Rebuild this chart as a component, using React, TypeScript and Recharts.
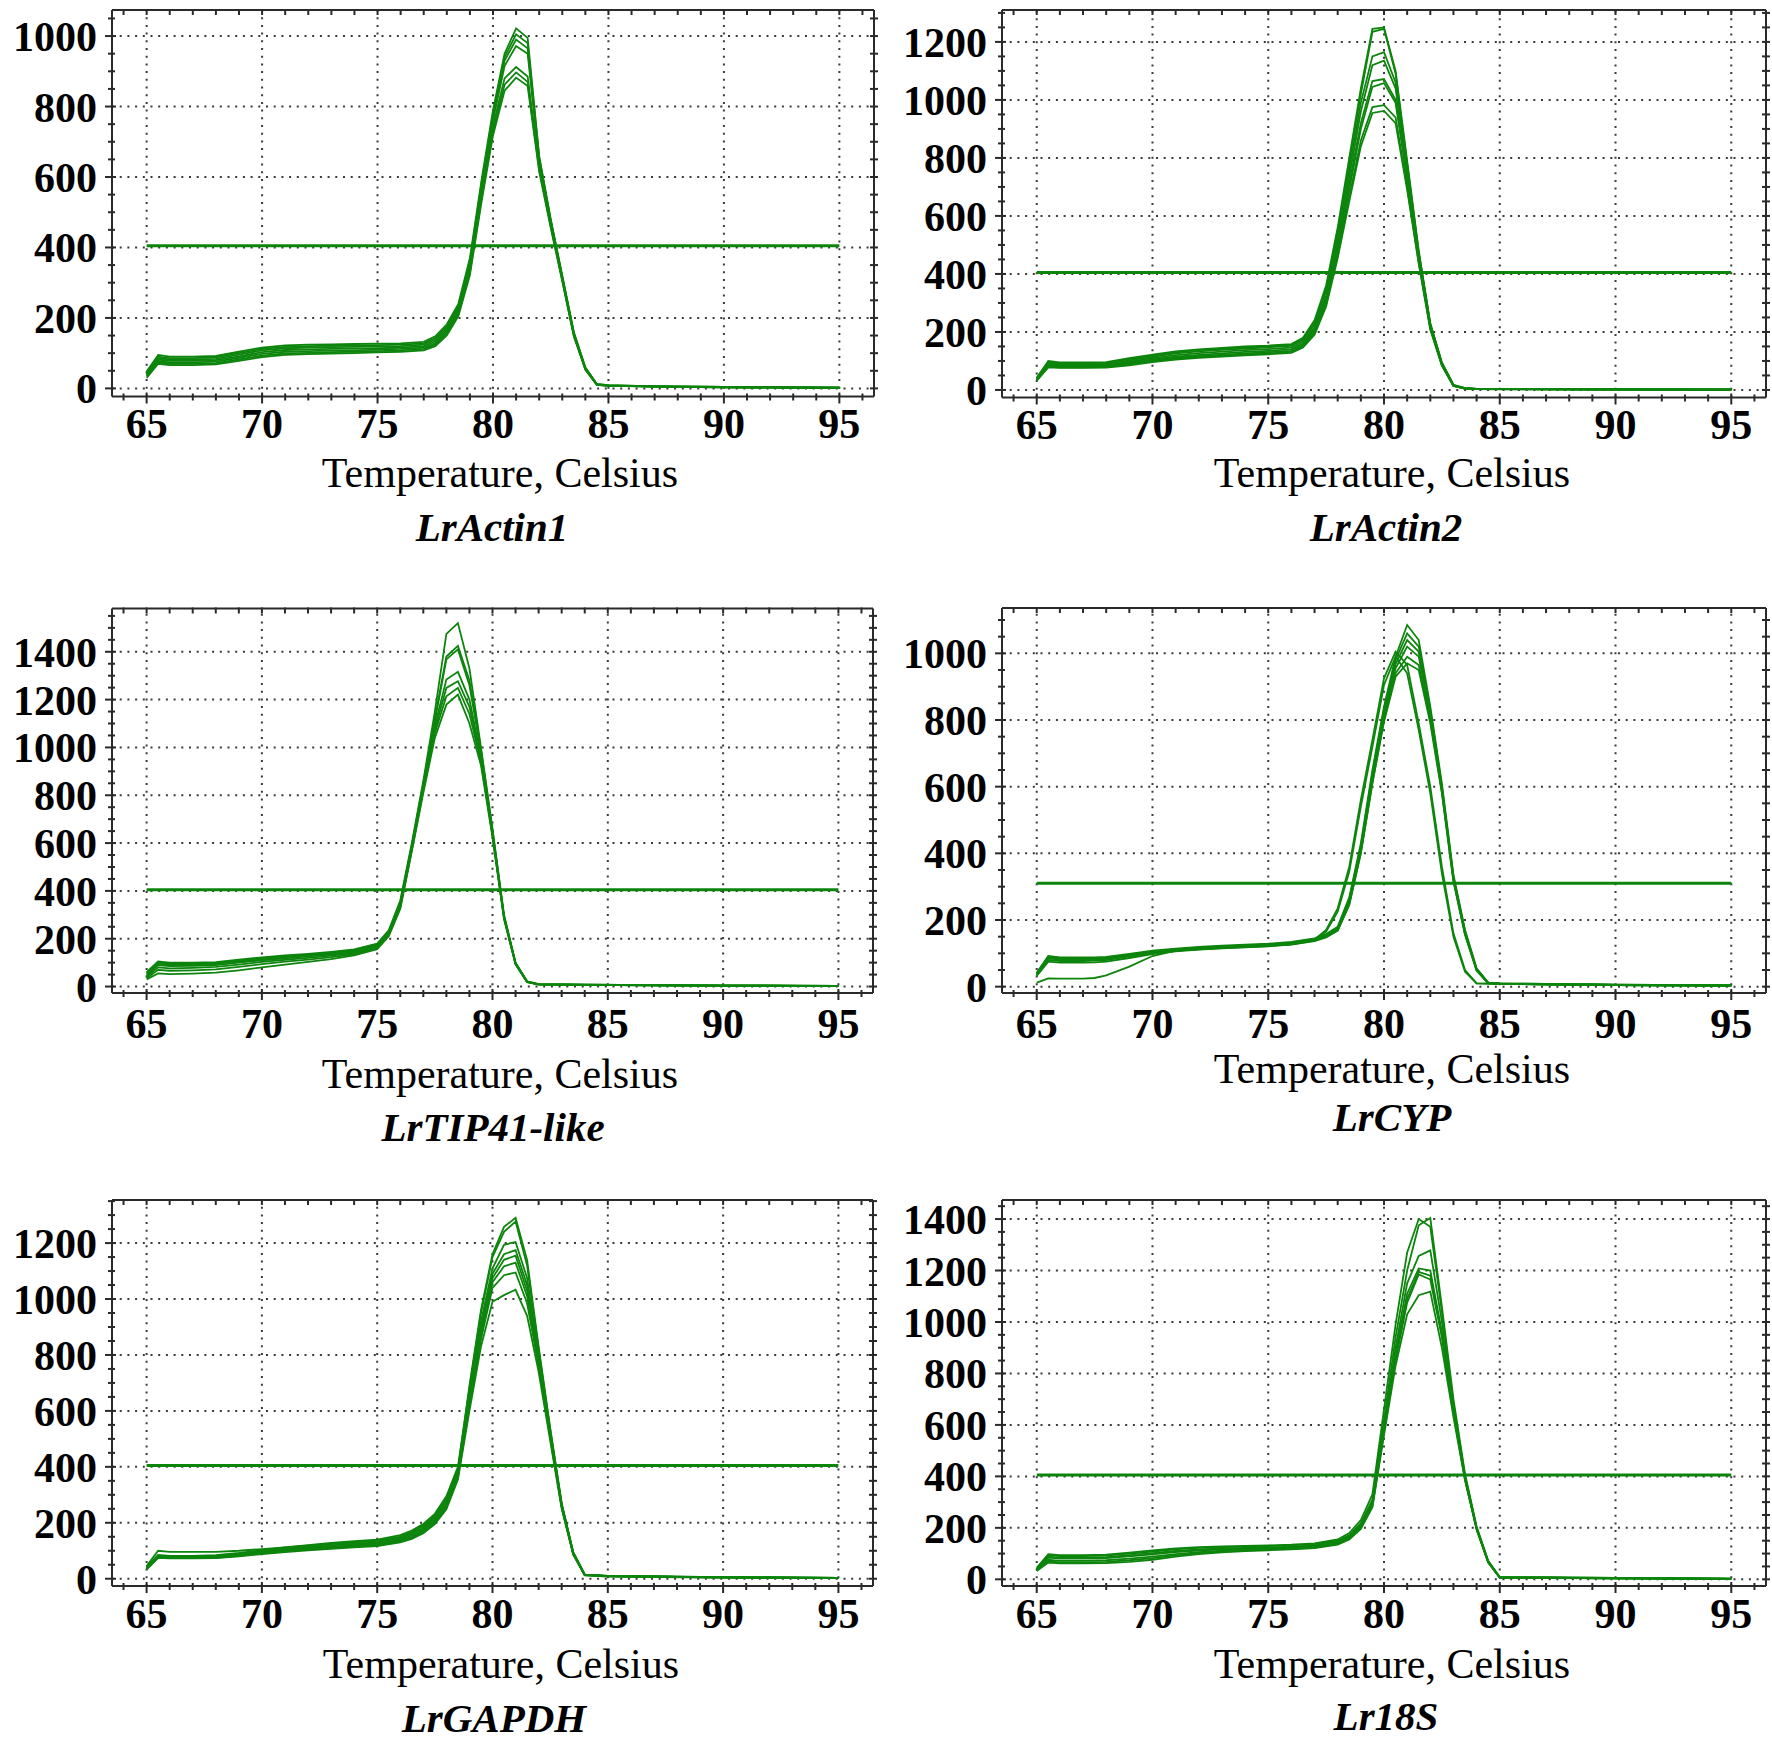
import React from "react";
import { LineChart, Line, XAxis, YAxis, ReferenceLine } from "recharts";

// ---------- DATA ----------
// LrActin1
const ACT1_T = [65, 65.5, 66, 67, 68, 69, 70, 71, 72, 73, 74, 75, 76, 77, 77.5, 78, 78.5, 79, 79.5, 80, 80.5, 81, 81.5, 82, 82.5, 83, 83.5, 84, 84.5, 85, 87, 90, 95];
const ACT1_A = [48, 95, 90, 90, 92, 104, 116, 122, 124, 125, 126, 127, 128, 132, 148, 182, 240, 370, 590, 790, 950, 1022, 995, 660, 480, 320, 160, 60, 12, 9, 6, 4, 2];
const ACT1_B = [45, 90, 86, 86, 88, 100, 112, 118, 120, 121, 122, 123, 124, 128, 143, 176, 234, 362, 580, 780, 940, 1005, 980, 655, 478, 318, 158, 58, 12, 9, 6, 4, 2];
const ACT1_C = [42, 86, 82, 82, 84, 96, 108, 114, 116, 117, 118, 119, 120, 124, 138, 170, 228, 354, 570, 770, 930, 990, 965, 650, 475, 316, 156, 57, 11, 8, 6, 4, 2];
const ACT1_D = [40, 82, 78, 78, 80, 91, 103, 109, 111, 112, 113, 114, 116, 120, 133, 165, 222, 346, 560, 760, 915, 972, 950, 645, 472, 314, 154, 56, 11, 8, 6, 4, 2];
const ACT1_E = [37, 78, 74, 74, 76, 87, 98, 104, 106, 107, 108, 110, 112, 116, 128, 160, 216, 338, 548, 745, 880, 912, 885, 630, 465, 310, 152, 55, 10, 8, 5, 3, 2];
const ACT1_F = [34, 74, 70, 70, 72, 82, 93, 99, 101, 103, 104, 106, 108, 112, 124, 155, 210, 330, 538, 730, 862, 897, 870, 622, 460, 307, 150, 54, 10, 8, 5, 3, 1];
const ACT1_G = [30, 70, 66, 66, 68, 78, 89, 95, 97, 99, 100, 102, 104, 108, 120, 150, 205, 322, 528, 718, 845, 882, 858, 615, 456, 304, 148, 53, 10, 7, 5, 3, 1];

// LrActin2
const ACT2_T = [65, 65.5, 66, 67, 68, 69, 70, 71, 72, 73, 74, 75, 76, 76.5, 77, 77.5, 78, 78.5, 79, 79.5, 80, 80.5, 81, 81.5, 82, 82.5, 83, 83.5, 84, 86, 90, 95];
const ACT2_A = [42, 100, 95, 95, 96, 110, 122, 133, 140, 145, 150, 153, 158, 180, 240, 360, 560, 800, 1040, 1245, 1250, 1100, 790, 480, 230, 95, 18, 6, 4, 3, 2, 1];
const ACT2_B = [40, 96, 92, 92, 93, 106, 118, 130, 137, 142, 147, 150, 155, 176, 232, 350, 545, 785, 1020, 1235, 1245, 1090, 780, 475, 228, 93, 17, 6, 4, 3, 2, 1];
const ACT2_C = [38, 92, 88, 88, 89, 102, 114, 126, 133, 138, 143, 147, 152, 172, 225, 340, 530, 760, 990, 1150, 1165, 1060, 760, 470, 225, 92, 16, 6, 4, 3, 2, 1];
const ACT2_D = [36, 88, 85, 85, 86, 98, 110, 120, 127, 132, 137, 141, 146, 166, 215, 325, 510, 735, 960, 1120, 1135, 1040, 750, 465, 222, 90, 16, 5, 4, 3, 2, 1];
const ACT2_E = [35, 85, 82, 82, 83, 94, 105, 115, 121, 126, 131, 135, 140, 160, 208, 315, 495, 710, 920, 1065, 1072, 1000, 735, 455, 218, 88, 15, 5, 4, 3, 2, 1];
const ACT2_F = [34, 82, 80, 80, 81, 91, 102, 111, 117, 122, 126, 130, 135, 155, 200, 305, 480, 690, 900, 1045, 1058, 990, 725, 450, 215, 86, 15, 5, 3, 3, 2, 1];
const ACT2_G = [33, 80, 78, 78, 79, 88, 99, 108, 114, 118, 122, 126, 131, 150, 195, 295, 465, 665, 860, 975, 982, 940, 700, 440, 210, 85, 14, 5, 3, 2, 2, 1];
const ACT2_H = [32, 78, 76, 76, 77, 85, 96, 105, 111, 115, 119, 123, 128, 146, 190, 288, 455, 650, 840, 955, 962, 920, 690, 435, 208, 84, 14, 5, 3, 2, 1, 1];

// LrTIP41-like
const TIP_T = [65, 65.5, 66, 67, 68, 69, 70, 71, 72, 73, 74, 75, 75.5, 76, 76.5, 77, 77.5, 78, 78.5, 79, 79.5, 80, 80.5, 81, 81.5, 82, 84, 87, 90, 95];
const TIP_A = [60, 105, 100, 100, 102, 112, 122, 130, 137, 145, 155, 180, 235, 360, 600, 860, 1150, 1475, 1520, 1330, 1000, 660, 300, 100, 22, 10, 8, 6, 5, 3];
const TIP_B = [55, 100, 96, 96, 98, 108, 118, 126, 133, 141, 151, 176, 230, 350, 590, 850, 1120, 1380, 1425, 1280, 990, 650, 295, 98, 21, 10, 8, 6, 4, 3];
const TIP_C = [50, 96, 92, 92, 95, 104, 114, 122, 130, 138, 148, 172, 226, 345, 585, 845, 1110, 1368, 1410, 1260, 980, 645, 292, 97, 20, 9, 8, 6, 4, 3];
const TIP_D = [45, 90, 86, 87, 90, 100, 110, 118, 126, 134, 145, 168, 222, 340, 580, 835, 1090, 1284, 1316, 1200, 960, 640, 290, 96, 20, 9, 7, 5, 4, 2];
const TIP_E = [40, 80, 76, 78, 82, 92, 103, 112, 120, 129, 140, 164, 218, 335, 575, 830, 1075, 1249, 1277, 1170, 950, 635, 288, 95, 19, 9, 7, 5, 4, 2];
const TIP_F = [35, 70, 66, 68, 72, 82, 94, 104, 113, 123, 135, 160, 214, 330, 570, 820, 1060, 1214, 1249, 1140, 940, 630, 285, 94, 19, 9, 7, 5, 3, 2];
const TIP_G = [30, 55, 52, 54, 58, 68, 80, 92, 103, 115, 130, 156, 210, 325, 565, 810, 1040, 1179, 1221, 1100, 925, 625, 282, 93, 18, 8, 7, 5, 3, 2];

// LrCYP
const CYP_T = [65, 65.5, 66, 67, 67.5, 68, 69, 70, 71, 72, 73, 74, 75, 76, 77, 77.5, 78, 78.5, 79, 79.5, 80, 80.5, 81, 81.5, 82, 82.5, 83, 83.5, 84, 84.5, 85, 87, 90, 95];
const CYP_A = [42, 92, 88, 88, 88, 89, 98, 108, 114, 119, 123, 126, 129, 134, 145, 158, 180, 268, 430, 650, 840, 990, 1085, 1040, 840, 610, 335, 170, 55, 12, 10, 8, 6, 4];
const CYP_B = [40, 90, 86, 86, 86, 87, 96, 106, 112, 117, 121, 124, 127, 132, 143, 155, 176, 262, 422, 640, 832, 980, 1060, 1020, 830, 600, 330, 166, 53, 12, 10, 8, 6, 4];
const CYP_C = [38, 88, 84, 84, 84, 85, 94, 104, 110, 115, 119, 122, 125, 130, 141, 152, 172, 256, 415, 630, 822, 968, 1040, 1005, 820, 595, 326, 163, 52, 11, 9, 7, 5, 3];
const CYP_D = [36, 85, 82, 82, 82, 83, 92, 102, 108, 113, 117, 120, 123, 128, 139, 150, 170, 250, 408, 620, 812, 955, 1020, 990, 810, 590, 322, 160, 50, 11, 9, 7, 5, 3];
const CYP_E = [32, 75, 72, 72, 73, 75, 86, 98, 106, 111, 115, 118, 121, 126, 137, 148, 168, 245, 400, 610, 800, 940, 990, 965, 800, 585, 318, 158, 50, 11, 9, 7, 5, 3];
const CYP_F = [12, 25, 24, 24, 26, 34, 60, 92, 108, 112, 116, 119, 122, 127, 138, 149, 169, 247, 402, 612, 795, 930, 970, 950, 790, 580, 315, 155, 48, 10, 9, 7, 5, 3];
const CYP_G = [38, 86, 82, 82, 82, 84, 94, 104, 110, 115, 119, 122, 125, 130, 142, 170, 235, 360, 560, 740, 925, 1005, 965, 790, 600, 360, 160, 50, 10, 9, 8, 7, 5, 3];
const CYP_H = [35, 80, 77, 77, 78, 80, 91, 101, 108, 113, 117, 120, 123, 128, 140, 165, 225, 345, 540, 720, 905, 990, 940, 770, 580, 340, 150, 45, 10, 9, 8, 7, 5, 3];

// LrGAPDH
const GAP_T = [65, 65.5, 66, 67, 68, 69, 70, 71, 72, 73, 74, 75, 76, 76.5, 77, 77.5, 78, 78.5, 79, 79.5, 80, 80.5, 81, 81.5, 82, 82.5, 83, 83.5, 84, 85, 87, 90, 95];
const GAP_A = [45, 100, 96, 96, 96, 100, 106, 112, 118, 125, 130, 135, 150, 165, 190, 225, 290, 390, 690, 960, 1160, 1258, 1290, 1140, 830, 540, 270, 95, 15, 10, 8, 6, 3];
const GAP_B = [42, 85, 82, 82, 84, 92, 102, 112, 120, 128, 134, 140, 156, 172, 196, 232, 295, 400, 680, 950, 1150, 1240, 1277, 1120, 820, 535, 268, 94, 15, 10, 8, 6, 3];
const GAP_C = [40, 82, 79, 79, 80, 88, 98, 108, 116, 124, 130, 136, 150, 166, 190, 225, 285, 390, 660, 920, 1110, 1194, 1204, 1075, 800, 525, 265, 92, 14, 10, 8, 5, 3];
const GAP_D = [38, 80, 77, 77, 78, 86, 96, 105, 112, 119, 125, 130, 145, 160, 183, 218, 278, 382, 645, 900, 1090, 1160, 1175, 1050, 790, 520, 262, 91, 14, 9, 7, 5, 3];
const GAP_E = [37, 78, 76, 76, 77, 84, 94, 102, 109, 115, 121, 126, 141, 155, 178, 212, 270, 375, 635, 885, 1075, 1140, 1155, 1030, 780, 515, 260, 90, 14, 9, 7, 5, 3];
const GAP_F = [36, 77, 75, 75, 76, 83, 92, 100, 106, 112, 118, 123, 137, 150, 173, 206, 262, 368, 625, 870, 1060, 1117, 1130, 1010, 770, 510, 258, 89, 13, 9, 7, 5, 2];
const GAP_G = [35, 76, 74, 74, 75, 82, 90, 98, 104, 110, 115, 120, 133, 146, 168, 200, 255, 362, 615, 855, 1040, 1085, 1095, 985, 760, 505, 255, 88, 13, 9, 7, 5, 2];
const GAP_H = [33, 75, 73, 73, 74, 80, 88, 95, 101, 107, 112, 117, 130, 142, 163, 195, 248, 355, 600, 830, 990, 1014, 1033, 940, 740, 495, 250, 86, 12, 8, 6, 4, 2];

// Lr18S
const R18_T = [65, 65.5, 66, 67, 68, 69, 70, 71, 72, 73, 74, 75, 76, 77, 78, 78.5, 79, 79.5, 80, 80.5, 81, 81.5, 82, 82.5, 83, 83.5, 84, 84.5, 85, 87, 90, 95];
const R18_A = [45, 98, 94, 94, 96, 104, 112, 120, 125, 128, 130, 132, 135, 140, 155, 180, 230, 330, 660, 990, 1270, 1400, 1370, 1040, 680, 400, 200, 70, 8, 7, 5, 3];
const R18_B = [42, 94, 90, 90, 92, 100, 108, 116, 122, 125, 127, 129, 132, 137, 150, 172, 218, 310, 620, 940, 1200, 1376, 1404, 1060, 700, 410, 205, 72, 8, 7, 5, 3];
const R18_C = [40, 88, 84, 84, 86, 94, 102, 110, 116, 120, 122, 124, 127, 132, 147, 168, 212, 300, 600, 900, 1150, 1257, 1278, 1000, 680, 400, 200, 70, 8, 6, 5, 3];
const R18_D = [38, 84, 80, 80, 82, 89, 97, 106, 112, 116, 119, 121, 124, 129, 144, 165, 208, 295, 590, 880, 1110, 1208, 1200, 960, 660, 395, 198, 68, 7, 6, 4, 2];
const R18_E = [36, 76, 72, 72, 74, 80, 88, 98, 106, 111, 115, 118, 121, 126, 141, 162, 204, 290, 580, 865, 1090, 1195, 1180, 950, 650, 390, 196, 67, 7, 6, 4, 2];
const R18_F = [34, 70, 66, 66, 68, 74, 82, 93, 102, 108, 112, 115, 118, 123, 138, 158, 200, 285, 570, 850, 1075, 1185, 1165, 940, 645, 388, 195, 66, 7, 6, 4, 2];
const R18_G = [32, 65, 62, 62, 63, 68, 76, 88, 98, 105, 110, 113, 116, 121, 135, 155, 196, 280, 560, 830, 1030, 1104, 1118, 900, 630, 385, 194, 65, 7, 5, 4, 2];

// thresholds (horizontal line series)
const THRESHOLDS = [405, 405, 405, 310, 405, 405];

// tick values
const X_TICKS = [64, 65, 66, 67, 68, 69, 70, 71, 72, 73, 74, 75, 76, 77, 78, 79, 80, 81, 82, 83, 84, 85, 86, 87, 88, 89, 90, 91, 92, 93, 94, 95, 96];
const X_MAJOR = [65, 70, 75, 80, 85, 90, 95];
const Y_TICK_MAX = [1050, 1300, 1550, 1100, 1350, 1450];
const Y_MINOR_STEP = 50;
const Y_MAJOR_STEP = 200;

const TITLES = ["LrActin1", "LrActin2", "LrTIP41-like", "LrCYP", "LrGAPDH", "Lr18S"];
const X_LABEL = "Temperature, Celsius";

// ---------- STYLE / LAYOUT ----------
const FONT = '"Liberation Serif", "Times New Roman", Times, serif';
const GREEN = "#0d850d";
const AXIS = "#2a2a2a";
const GRID = "#3a3a3a";
const X_DOMAIN: [number, number] = [63.5, 96.5];
const AX_W = 1; // axis band thickness (must be > 0 for Recharts to draw it)

function steps(a: number, b: number, s: number) {
  const r: number[] = [];
  for (let v = a; v <= b + 1e-9; v += s) r.push(v);
  return r;
}

type Cfg = {
  title: string;
  temps: number[];
  series: number[][];
  thr: number;
  yDomain: [number, number];
  yTickMax: number;
  box: [number, number, number, number];
  frame: [number, number, number, number];
  tickDy: number;
  labelX: number;
  labelY: number;
  titleX: number;
  titleY: number;
};

const CHARTS: Cfg[] = [
  {
    title: TITLES[0], temps: ACT1_T, series: [ACT1_A, ACT1_B, ACT1_C, ACT1_D, ACT1_E, ACT1_F, ACT1_G],
    thr: THRESHOLDS[0], yDomain: [-23, 1074], yTickMax: Y_TICK_MAX[0],
    box: [0, 0, 886, 580], frame: [112, 874, 10, 396.5], tickDy: 41,
    labelX: 500, labelY: 487, titleX: 492, titleY: 541,
  },
  {
    title: TITLES[1], temps: ACT2_T, series: [ACT2_A, ACT2_B, ACT2_C, ACT2_D, ACT2_E, ACT2_F, ACT2_G, ACT2_H],
    thr: THRESHOLDS[1], yDomain: [-26, 1310], yTickMax: Y_TICK_MAX[1],
    box: [886, 0, 886, 580], frame: [1002, 1766, 10, 397.5], tickDy: 41,
    labelX: 1392, labelY: 487, titleX: 1386, titleY: 541,
  },
  {
    title: TITLES[2], temps: TIP_T, series: [TIP_A, TIP_B, TIP_C, TIP_D, TIP_E, TIP_F, TIP_G],
    thr: THRESHOLDS[2], yDomain: [-27, 1581], yTickMax: Y_TICK_MAX[2],
    box: [0, 580, 886, 580], frame: [112, 873, 608.5, 993], tickDy: 45,
    labelX: 500, labelY: 1088, titleX: 493, titleY: 1141,
  },
  {
    title: TITLES[3], temps: CYP_T, series: [CYP_A, CYP_B, CYP_C, CYP_D, CYP_E, CYP_F, CYP_G, CYP_H],
    thr: THRESHOLDS[3], yDomain: [-19, 1136], yTickMax: Y_TICK_MAX[3],
    box: [886, 580, 886, 580], frame: [1002, 1766, 608, 993], tickDy: 45,
    labelX: 1392, labelY: 1083, titleX: 1392, titleY: 1131,
  },
  {
    title: TITLES[4], temps: GAP_T, series: [GAP_A, GAP_B, GAP_C, GAP_D, GAP_E, GAP_F, GAP_G, GAP_H],
    thr: THRESHOLDS[4], yDomain: [-26, 1354], yTickMax: Y_TICK_MAX[4],
    box: [0, 1160, 886, 582], frame: [112, 873, 1200, 1586], tickDy: 42,
    labelX: 501, labelY: 1678, titleX: 494, titleY: 1732,
  },
  {
    title: TITLES[5], temps: R18_T, series: [R18_A, R18_B, R18_C, R18_D, R18_E, R18_F, R18_G],
    thr: THRESHOLDS[5], yDomain: [-26, 1474], yTickMax: Y_TICK_MAX[5],
    box: [886, 1160, 886, 582], frame: [1002, 1766, 1200, 1586], tickDy: 42,
    labelX: 1392, labelY: 1678, titleX: 1386, titleY: 1730,
  },
];

// ---------- TICKS ----------
const bottomTick = (dy: number) => (p: any) => {
  const { x, y, payload } = p;
  const v = payload.value;
  const major = v % 5 === 0;
  return (
    <g>
      <line x1={x} x2={x} y1={y - (major ? 4 : 3)} y2={y + (major ? 7 : 4)} stroke={AXIS} strokeWidth={2} />
      {major && (
        <text x={x} y={y + dy} textAnchor="middle" fontFamily={FONT} fontWeight="bold" fontSize={42} fill="#000">
          {v}
        </text>
      )}
    </g>
  );
};

const topTick = (p: any) => {
  const { x, y } = p;
  return <line x1={x} x2={x} y1={y - 1} y2={y + 5} stroke={AXIS} strokeWidth={2} />;
};

const leftTick = (p: any) => {
  const { x, y, payload } = p;
  const v = payload.value;
  const major = v % Y_MAJOR_STEP === 0;
  return (
    <g>
      <line x1={x - (major ? 7 : 4)} x2={x + (major ? 4 : 3)} y1={y} y2={y} stroke={AXIS} strokeWidth={2} />
      {major && (
        <text x={x - 15} y={y + 15} textAnchor="end" fontFamily={FONT} fontWeight="bold" fontSize={42} fill="#000">
          {v}
        </text>
      )}
    </g>
  );
};

const rightTick = (p: any) => {
  const { x, y } = p;
  return <line x1={x - 4} x2={x + 4} y1={y} y2={y} stroke={AXIS} strokeWidth={2} />;
};

// ---------- CHART ----------
function MeltChart({ c }: { c: Cfg }) {
  const rows = c.temps.map((t, i) => {
    const r: any = { t };
    c.series.forEach((s, j) => {
      r["s" + j] = s[i];
    });
    return r;
  });
  const thrData = [
    { t: 65, v: c.thr },
    { t: 95, v: c.thr },
  ];
  const yTicks = steps(0, c.yTickMax, Y_MINOR_STEP);
  const yMajor = yTicks.filter((v) => v % Y_MAJOR_STEP === 0);
  const [bl, bt, bw, bh] = c.box;
  const margin = {
    left: c.frame[0] - bl - AX_W,
    right: bl + bw - c.frame[1] - AX_W,
    top: c.frame[2] - bt - AX_W,
    bottom: bt + bh - c.frame[3] - AX_W,
  };
  const axisLine = { stroke: AXIS, strokeWidth: 2 };
  return (
    <div style={{ position: "absolute", left: bl, top: bt, width: bw, height: bh }}>
      <LineChart width={bw} height={bh} data={rows} margin={margin}>
        <XAxis
          xAxisId="b" dataKey="t" type="number" domain={X_DOMAIN} ticks={X_TICKS} interval={0}
          orientation="bottom" height={AX_W} tickSize={0} tickMargin={0} tickLine={false}
          axisLine={axisLine} tick={bottomTick(c.tickDy)} allowDataOverflow
        />
        <XAxis
          xAxisId="t" dataKey="t" type="number" domain={X_DOMAIN} ticks={X_TICKS} interval={0}
          orientation="top" height={AX_W} tickSize={0} tickMargin={0} tickLine={false}
          axisLine={axisLine} tick={topTick} allowDataOverflow
        />
        <YAxis
          yAxisId="l" type="number" domain={c.yDomain} ticks={yTicks} interval={0}
          orientation="left" width={AX_W} tickSize={0} tickMargin={0} tickLine={false}
          axisLine={axisLine} tick={leftTick} allowDataOverflow
        />
        <YAxis
          yAxisId="r" type="number" domain={c.yDomain} ticks={yTicks} interval={0}
          orientation="right" width={AX_W} tickSize={0} tickMargin={0} tickLine={false}
          axisLine={axisLine} tick={rightTick} allowDataOverflow
        />
        {X_MAJOR.map((v) => (
          <ReferenceLine key={"gx" + v} xAxisId="b" yAxisId="l" x={v} stroke={GRID} strokeWidth={2} strokeDasharray="2 5.7" />
        ))}
        {yMajor.map((v) => (
          <ReferenceLine key={"gy" + v} xAxisId="b" yAxisId="l" y={v} stroke={GRID} strokeWidth={2} strokeDasharray="2 5.7" />
        ))}
        {c.series.map((_, j) => (
          <Line
            key={"s" + j} xAxisId="b" yAxisId="l" type="linear" dataKey={"s" + j}
            stroke={GREEN} strokeWidth={1.8} dot={false} activeDot={false} isAnimationActive={false}
          />
        ))}
        <Line
          data={thrData} xAxisId="t" yAxisId="r" type="linear" dataKey="v"
          stroke={GREEN} strokeWidth={3} dot={false} activeDot={false} isAnimationActive={false}
        />
      </LineChart>
    </div>
  );
}

export default function App() {
  return (
    <div style={{ position: "absolute", left: 0, top: 0, width: 1772, height: 1742, background: "#fff" }}>
      {CHARTS.map((c, i) => (
        <MeltChart key={i} c={c} />
      ))}
      <svg width={1772} height={1742} style={{ position: "absolute", left: 0, top: 0, pointerEvents: "none" }}>
        {CHARTS.map((c, i) => (
          <g key={i}>
            <text x={c.labelX} y={c.labelY} textAnchor="middle" fontFamily={FONT} fontSize={42} fill="#000">
              {X_LABEL}
            </text>
            <text x={c.titleX} y={c.titleY} textAnchor="middle" fontFamily={FONT} fontWeight="bold" fontStyle="italic" fontSize={41} fill="#000">
              {c.title}
            </text>
          </g>
        ))}
      </svg>
    </div>
  );
}
